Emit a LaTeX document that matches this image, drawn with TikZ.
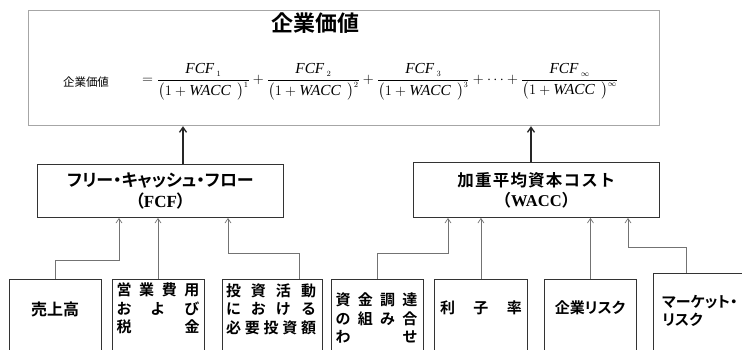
\documentclass[tikz,border=0pt]{standalone}
\usepackage{fontspec}
\usepackage{amsmath}
\setmainfont{Liberation Serif}
\newfontfamily\cjk{Noto Sans CJK JP}
\newfontfamily\cjkb{Noto Sans CJK JP Bold}
\newfontfamily\cjkbp[RawFeature=+palt]{Noto Sans CJK JP Bold}
\usetikzlibrary{arrows.meta}
\newcommand\spreadrow[2]{\makebox[#1][s]{#2}}
\newcommand\denomw[1]{\bigl(1+\textit{WACC}\;\,\bigr)^{\scriptscriptstyle #1}}
\newcommand\numf[1]{\textit{FCF}\,{}_{\scriptscriptstyle #1}}
\tikzset{
 box/.style={draw=black!80, line width=0.9pt, anchor=north west, inner sep=0pt},
 conn/.style={draw=black!55, line width=0.7pt, -{Straight Barb[length=4.5pt,width=6pt]}},
 upar/.style={draw=black!85, line width=1.3pt, -{Straight Barb[length=5pt,width=7pt]}},
 btext/.style={font=\cjkb\fontsize{15}{18.5}\selectfont, inner sep=0pt, align=center},
}
\begin{document}
\begin{tikzpicture}[x=1pt,y=-1pt]
\useasboundingbox (0,0) rectangle (742,349);
\fill[white] (0,0) rectangle (742,349);
\clip (0,0) rectangle (742,349);

% top box
\node[draw=black!35, line width=1.2pt, anchor=north west, minimum width=631pt, minimum height=115pt, inner sep=0pt] (top) at (28,10) {};
\node[font=\cjkb\fontsize{22}{22}\selectfont, inner sep=0pt] (title) at (315,23) {企業価値};
\node[font=\cjk\fontsize{11.5}{12}\selectfont, inner sep=0pt] (lbl) at (86,82) {企業価値};
\node[anchor=west, font=\fontsize{15.3}{17}\selectfont, inner sep=0pt] (eq) at (142,82)
 {$=\dfrac{\numf{1}}{\denomw{1}}+\dfrac{\numf{2}}{\denomw{2}}+\dfrac{\numf{3}}{\denomw{3}}+\cdots+\dfrac{\numf{\infty}}{\denomw{\infty}}$};

% middle boxes
\node[box, minimum width=246pt, minimum height=53pt] (fcf) at (37,164) {};
\node[font=\cjkbp\fontsize{17}{21}\selectfont, align=center, inner sep=0pt] (fcft) at (fcf.center)
 {フリー・キャッシュ・フロー\\（{\rmfamily\bfseries FCF}）};
\node[box, minimum width=246pt, minimum height=55pt] (wacc) at (413,162) {};
\node[font=\cjkb\fontsize{16.5}{20}\selectfont, align=center, inner sep=0pt] (wacct) at (wacc.center)
 {\spreadrow{158pt}{加\hfill 重\hfill 平\hfill 均\hfill 資\hfill 本\hfill コ\hfill ス\hfill ト}\\（{\rmfamily\bfseries WACC}）};

% bottom boxes
\node[box, minimum width=92pt, minimum height=100pt] (b1) at (9,279) {};
\node[box, minimum width=92pt, minimum height=100pt] (b2) at (112,279) {};
\node[box, minimum width=100pt, minimum height=100pt] (b3) at (222,279) {};
\node[box, minimum width=92pt, minimum height=100pt] (b4) at (331,279) {};
\node[box, minimum width=93pt, minimum height=100pt] (b5) at (434,279) {};
\node[box, minimum width=92pt, minimum height=100pt] (b6) at (544,279) {};
\node[box, minimum width=110pt, minimum height=100pt] (b7) at (653,273) {};

% bottom texts
\node[btext, font=\cjkb\fontsize{16}{18}\selectfont] (t1) at (55,309) {売上高};
\node[btext] (t2) at (158,308.5) {\spreadrow{83pt}{営\hfill 業\hfill 費\hfill 用}\\\spreadrow{83pt}{お\hfill よ\hfill び}\\\spreadrow{83pt}{税\hfill 金}};
\node[btext] (t3) at (271,309) {\spreadrow{90pt}{投\hfill 資\hfill 活\hfill 動}\\\spreadrow{90pt}{に\hfill お\hfill け\hfill る}\\\spreadrow{90pt}{必\hfill 要\hfill 投\hfill 資\hfill 額}};
\node[btext] (t4) at (376.5,318) {\spreadrow{82pt}{資\hfill 金\hfill 調\hfill 達}\\\spreadrow{82pt}{の\hfill 組\hfill み\hfill 合}\\\spreadrow{82pt}{わ\hfill せ}};
\node[btext] (t5) at (481,308) {\spreadrow{82pt}{利\hfill 子\hfill 率}};
\node[btext, font=\cjkbp\fontsize{15}{18}\selectfont] (t6) at (590,308) {企業リスク};
\node[btext, font=\cjkbp\fontsize{15}{18}\selectfont, align=left, anchor=west] (t7) at (662,311) {マーケット・\\リスク};

% connectors
\draw[conn] (b1.north) -- ++(0,-19) -| ([xshift=82pt]fcf.south west);
\draw[conn] ([xshift=46pt]b2.north west) -- ([xshift=46pt]b2.north west |- fcf.south);
\draw[conn] ([xshift=77pt]b3.north west) -- ++(0,-26) -| ([xshift=191pt]fcf.south west);
\draw[conn] (b4.north) -- ++(0,-26) -| ([xshift=35pt]wacc.south west);
\draw[conn] (b5.north) -- (b5.north |- wacc.south);
\draw[conn] (b6.north) -- (b6.north |- wacc.south);
\draw[conn] ([xshift=33pt]b7.north west) -- ++(0,-26) -| ([xshift=215pt]wacc.south west);

% up arrows
\draw[upar] ([xshift=146pt]fcf.north west) -- ([xshift=146pt]fcf.north west |- top.south);
\draw[upar] ([xshift=118pt]wacc.north west) -- ([xshift=118pt]wacc.north west |- top.south);
\end{tikzpicture}
\end{document}
